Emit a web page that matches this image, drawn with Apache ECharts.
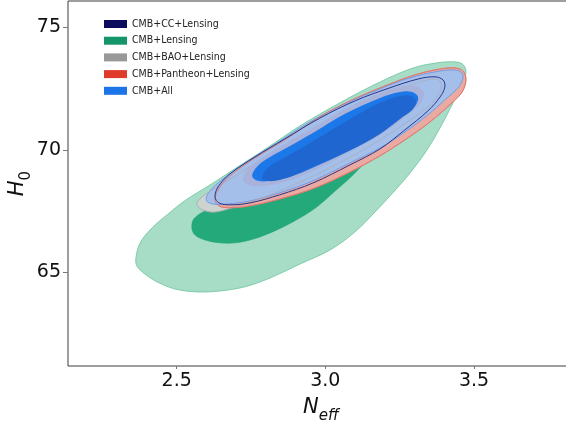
<!DOCTYPE html>
<html>
<head>
<meta charset="utf-8">
<script src="https://cdn.jsdelivr.net/npm/echarts@6/dist/echarts.min.js"></script>
<style>
  html, body { margin: 0; padding: 0; background: #fff; }
  #chart { width: 566px; height: 426px; }
</style>
</head>
<body>
<div id="chart"></div>
<script>
// Axis ticks
const xTicks = [2.5, 3.0, 3.5];
const yTicks = [65, 70, 75];

// Legend entries
const legendNames = ['CMB+CC+Lensing', 'CMB+Lensing', 'CMB+BAO+Lensing', 'CMB+Pantheon+Lensing', 'CMB+All'];
const legendColors = ['#0b0d5c', '#14966a', '#989898', '#e03a2b', '#1b74e8'];

// Contour boundaries in (N_eff, H0)
const lensing95 = [[2.363,65.60],[2.377,66.21],[2.417,66.82],[2.471,67.39],[2.531,67.96],[2.612,68.57],[2.689,69.18],[2.804,70.08],[2.915,70.98],[3.049,71.92],[3.184,72.77],[3.295,73.34],[3.376,73.55],[3.429,73.59],[3.460,73.51],[3.473,73.22],[3.463,72.77],[3.426,71.83],[3.386,70.90],[3.342,70.00],[3.285,69.06],[3.227,68.25],[3.167,67.47],[3.100,66.66],[3.016,65.92],[2.915,65.35],[2.814,64.78],[2.730,64.42],[2.646,64.25],[2.568,64.21],[2.494,64.33],[2.434,64.62],[2.393,64.94],[2.366,65.27]];
const lensing68 = [[2.551,66.82],[2.558,67.19],[2.595,67.51],[2.679,68.00],[2.797,68.70],[2.915,69.39],[3.033,70.08],[3.123,70.57],[3.177,70.73],[3.191,70.49],[3.167,69.92],[3.123,69.35],[3.083,68.86],[3.026,68.25],[2.972,67.68],[2.915,67.23],[2.858,66.86],[2.797,66.53],[2.747,66.33],[2.696,66.21],[2.646,66.21],[2.595,66.33],[2.562,66.53]];
const bao95 = [[2.568,67.76],[2.578,68.00],[2.619,68.37],[2.696,68.94],[2.814,69.80],[2.948,70.77],[3.083,71.63],[3.217,72.32],[3.318,72.77],[3.369,72.89],[3.389,72.73],[3.386,72.36],[3.352,71.83],[3.285,71.22],[3.184,70.41],[3.066,69.59],[2.932,68.78],[2.797,68.08],[2.696,67.68],[2.629,67.47],[2.588,67.55]];
const bao68 = [[2.723,68.78],[2.740,69.23],[2.787,69.67],[2.864,70.24],[2.958,70.90],[3.073,71.71],[3.184,72.32],[3.268,72.61],[3.312,72.57],[3.332,72.28],[3.318,71.88],[3.278,71.43],[3.201,70.73],[3.083,69.92],[2.965,69.18],[2.864,68.70],[2.787,68.53],[2.743,68.57]];
const pantheon95 = [[2.629,67.96],[2.639,68.37],[2.679,68.94],[2.763,69.67],[2.864,70.41],[2.982,71.35],[3.083,72.00],[3.201,72.61],[3.302,73.06],[3.386,73.30],[3.436,73.34],[3.463,73.22],[3.473,72.85],[3.460,72.36],[3.426,71.92],[3.352,71.14],[3.268,70.41],[3.184,69.76],[3.083,69.10],[2.965,68.45],[2.847,68.00],[2.747,67.72],[2.679,67.64],[2.642,67.72]];
const cc95 = [[2.629,68.08],[2.639,68.49],[2.679,69.02],[2.763,69.71],[2.864,70.45],[2.982,71.30],[3.100,72.00],[3.217,72.53],[3.312,72.89],[3.369,72.98],[3.396,72.85],[3.402,72.57],[3.386,72.16],[3.345,71.59],[3.268,70.82],[3.184,70.04],[3.083,69.39],[2.958,68.65],[2.847,68.17],[2.747,67.84],[2.679,67.76],[2.642,67.84]];
const all95 = [[2.599,67.96],[2.612,68.33],[2.652,68.78],[2.730,69.47],[2.831,70.24],[2.948,71.14],[3.066,71.88],[3.184,72.49],[3.285,72.94],[3.369,73.18],[3.426,73.26],[3.456,73.18],[3.463,72.94],[3.446,72.53],[3.402,72.04],[3.345,71.43],[3.268,70.73],[3.184,70.08],[3.083,69.47],[2.958,68.74],[2.847,68.25],[2.747,67.92],[2.673,67.80],[2.619,67.80]];
const all68 = [[2.754,68.94],[2.773,69.35],[2.814,69.71],[2.881,70.16],[2.958,70.69],[3.073,71.51],[3.184,72.12],[3.251,72.36],[3.291,72.36],[3.312,72.16],[3.302,71.79],[3.268,71.43],[3.184,70.69],[3.073,69.92],[2.958,69.27],[2.881,68.90],[2.814,68.74],[2.773,68.74]];
const all68core = [[2.787,68.86],[2.807,69.27],[2.854,69.63],[2.915,70.04],[2.999,70.65],[3.083,71.26],[3.184,71.92],[3.251,72.20],[3.288,72.20],[3.305,72.00],[3.295,71.67],[3.261,71.35],[3.184,70.65],[3.073,69.92],[2.958,69.31],[2.888,68.94],[2.831,68.74],[2.800,68.74]];

// One closed region (or outline) per series, projected through the grid's axes
function contour(name, pts, style) {
  return {
    type: 'custom',
    name: name,
    coordinateSystem: 'cartesian2d',
    encode: { x: 0, y: 1 },
    data: pts,
    silent: true,
    clip: true,
    renderItem: function (params, api) {
      if (params.dataIndex !== 0) return null;
      const points = pts.map(p => api.coord(p));
      return {
        type: 'polygon',
        shape: { points: points, smooth: 0.35 },
        style: style
      };
    }
  };
}

const series = [
  contour('CMB+Lensing', lensing95, { fill: '#a7dcc7', stroke: '#6cc4a0', lineWidth: 0.8 }),
  contour('CMB+Lensing', lensing68, { fill: '#24a97a', stroke: '#22a477', lineWidth: 0.6 }),
  contour('CMB+BAO+Lensing', bao95, { fill: '#cdd4d0', stroke: '#b9c0bc', lineWidth: 0.6 }),
  contour('CMB+Pantheon+Lensing', pantheon95, { fill: '#eaa9a1', stroke: '#e48278', lineWidth: 0.8 }),
  contour('CMB+All', all95, { fill: '#a4bfea', stroke: '#6d9ee9', lineWidth: 1 }),
  contour('CMB+BAO+Lensing', bao95, { fill: null, stroke: 'rgba(170,172,178,0.9)', lineWidth: 0.8 }),
  contour('CMB+Pantheon+Lensing', pantheon95, { fill: null, stroke: '#dd7a72', lineWidth: 1 }),
  contour('CMB+CC+Lensing', cc95, { fill: null, stroke: '#2b3588', lineWidth: 1 }),
  contour('CMB+BAO+Lensing', bao68, { fill: '#a9b2db', stroke: null }),
  contour('CMB+All', all68, { fill: '#1c77e9', stroke: null }),
  contour('CMB+All', all68core, { fill: '#1f66d0', stroke: null })
];

const chart = echarts.init(document.getElementById('chart'), null, { renderer: 'canvas' });
chart.setOption({
  animation: false,
  backgroundColor: '#ffffff',
  grid: {
    left: 68, top: 1, width: 506, height: 365,
    containLabel: false,
    outerBoundsMode: 'none',
    show: true, borderColor: '#3c3c3c', borderWidth: 1, backgroundColor: 'transparent'
  },
  legend: {
    orient: 'vertical',
    left: 104, top: 18,
    padding: 0,
    itemWidth: 23, itemHeight: 8, itemGap: 4.7,
    icon: 'rect',
    selectedMode: false,
    textStyle: { fontFamily: '"DejaVu Sans Condensed", "DejaVu Sans"', fontSize: 10.5, lineHeight: 12, color: '#222' },
    data: legendNames.map((n, i) => ({ name: n, itemStyle: { color: legendColors[i], borderWidth: 0 } }))
  },
  xAxis: {
    type: 'value',
    min: 2.1344, max: 3.8364,
    splitLine: { show: false },
    axisLine: { show: false },
    axisTick: { show: true, customValues: xTicks, length: 3, lineStyle: { color: '#777' } },
    axisLabel: { customValues: xTicks, formatter: v => v.toFixed(1), fontSize: 19, fontFamily: 'DejaVu Sans', color: '#111', margin: 6 },
    name: '{n|N}{s|eff}',
    nameLocation: 'middle',
    nameGap: 31,
    nameMoveOverlap: false,
    nameTextStyle: {
      rich: {
        n: { fontFamily: 'DejaVu Sans', fontStyle: 'italic', fontSize: 21, lineHeight: 27, color: '#111', verticalAlign: 'top' },
        s: { fontFamily: 'DejaVu Sans', fontStyle: 'italic', fontSize: 15, lineHeight: 15, color: '#111', verticalAlign: 'bottom' }
      }
    }
  },
  yAxis: {
    type: 'value',
    min: 61.19, max: 76.07,
    splitLine: { show: false },
    axisLine: { show: false },
    axisTick: { show: true, customValues: yTicks, length: 5, lineStyle: { color: '#777' } },
    axisLabel: { customValues: yTicks, fontSize: 19, fontFamily: 'DejaVu Sans', color: '#111', margin: 7 },
    name: '{h|H}{z|0}',
    nameLocation: 'middle',
    nameGap: 34,
    nameMoveOverlap: false,
    nameTextStyle: {
      rich: {
        h: { fontFamily: 'DejaVu Sans', fontStyle: 'italic', fontSize: 21, lineHeight: 27, color: '#111', verticalAlign: 'top' },
        z: { fontFamily: 'DejaVu Sans', fontSize: 15, lineHeight: 15, color: '#111', verticalAlign: 'bottom' }
      }
    }
  },
  series: series
});
</script>
</body>
</html>
